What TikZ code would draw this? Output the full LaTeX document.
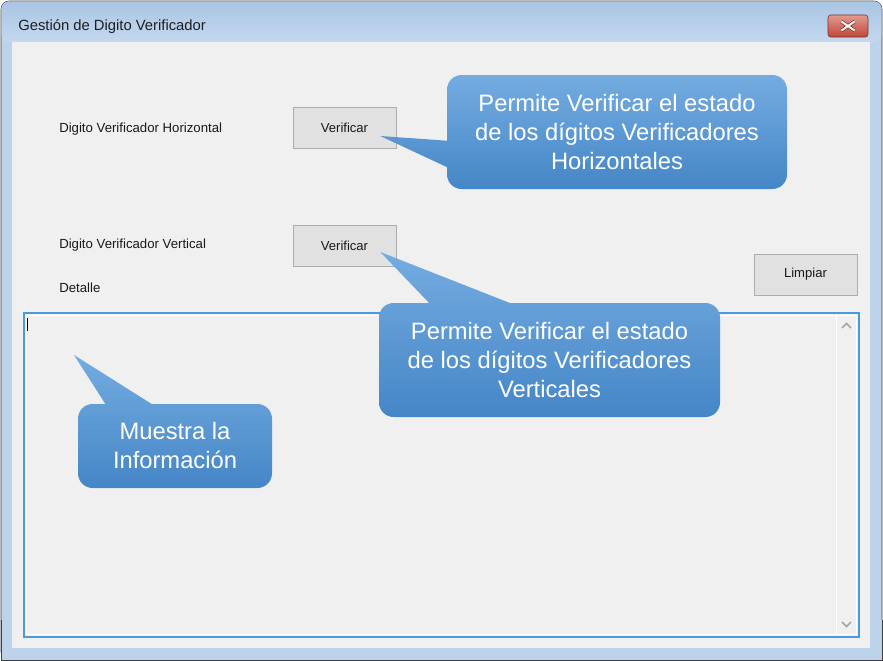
\documentclass[tikz,border=0pt]{standalone}
\usepackage{fontspec}
\setmainfont{Liberation Sans}[Ligatures=NoCommon]
\usetikzlibrary{calc}

\definecolor{marco}{HTML}{BCD3EB}
\definecolor{barra1}{HTML}{A9C5E4}
\definecolor{barra2}{HTML}{C4D8EE}
\definecolor{borde}{HTML}{3E3E3E}
\definecolor{fondo}{HTML}{F0F0F0}
\definecolor{botonfondo}{HTML}{E1E1E1}
\definecolor{botonborde}{HTML}{ADADAD}
\definecolor{cajaborde}{HTML}{4A9AE2}
\definecolor{globoarriba}{HTML}{74ACE0}
\definecolor{globoabajo}{HTML}{4586C7}
\definecolor{cerrar1}{HTML}{E29A8E}
\definecolor{cerrar2}{HTML}{C2453A}
\definecolor{cerrarborde}{HTML}{7B3028}

\tikzset{
  boton/.style={draw=botonborde, fill=botonfondo, minimum width=77.25pt, minimum height=30.75pt,
    inner sep=0pt, text=black!90, font=\fontsize{9.8}{12}\selectfont},
  etiqueta/.style={anchor=west, inner sep=0pt, text=black!90, font=\fontsize{9.9}{12}\selectfont},
  globo/.style={top color=globoarriba, bottom color=globoabajo},
  globotexto/.style={text=white, align=center, inner sep=0pt, font=\fontsize{17.8}{21.75}\selectfont},
  flecha/.style={draw=black!35, line width=1.1pt},
}

\begin{document}
\begin{tikzpicture}[x=0.75pt,y=-0.75pt]
  \useasboundingbox (0,0) rectangle (883,661);

  % ventana
  \draw[borde, fill=marco, rounded corners=6pt] (1,1) rectangle (882,660);
  \fill[marco] (1.5,620) rectangle (881.5,659.5);
  \draw[borde] (1,620) -- (1,660) -- (882,660) -- (882,620);
  \shade[top color=barra1, bottom color=barra2, rounded corners=5pt] (1.6,1.6) rectangle (881.4,42);
  \fill[fondo] (12,42) rectangle (870,648);
  \node[anchor=west, inner sep=0pt, text=black!88, font=\fontsize{11.1}{13}\selectfont] (titulo) at (18,27) {Gestión de Digito Verificador};

  % boton cerrar
  \shade[draw=cerrarborde, top color=cerrar1, bottom color=cerrar2, rounded corners=2pt] (828,15) rectangle (868,37);
  \draw[cerrarborde, line width=2.6pt] (841.5,21.5) -- (854.5,30.5) (841.5,30.5) -- (854.5,21.5);
  \draw[white, line width=1.5pt] (841.5,21.5) -- (854.5,30.5) (841.5,30.5) -- (854.5,21.5);

  % etiquetas
  \node[etiqueta] (horizontal) at (59,129) {Digito Verificador Horizontal};
  \node[etiqueta] (vertical) at (59,245) {Digito Verificador Vertical};
  \node[etiqueta] (detalle) at (59,288) {Detalle};

  % botones
  \node[boton] (btn1) at (344.5,128) {Verificar};
  \node[boton] (btn2) at (344.5,245.5) {Verificar};
  \node[boton] (limpiar) at (805.5,274.5) {Limpiar};

  % caja de texto
  \draw[cajaborde, line width=1.1pt, fill=fondo] (24,313) rectangle (859,637);
  \draw[white] (26.5,315.5) rectangle (856.5,634.5);
  \draw[white] (836,315.5) -- (836,634.5);
  \draw[black, line width=0.75pt] (27.5,318) -- (27.5,331);
  \draw[flecha] (842,328) -- (846.5,323.5) -- (851,328);
  \draw[flecha] (842,622) -- (846.5,626.5) -- (851,622);

  % globos
  \shade[globo, rounded corners=11pt] (447,75) rectangle (787,189)
    [sharp corners] (451,141) -- ($(btn1.east)+(-16,8)$) -- (451,169) -- cycle;
  \node[globotexto] (nota1) at (617,132) {Permite Verificar el estado\\de los dígitos Verificadores\\Horizontales};

  \shade[globo, rounded corners=11pt] (379,303) rectangle (720,417)
    [sharp corners] (520,307) -- ($(btn2.east)+(-16,6.5)$) -- (433,307) -- cycle;
  \node[globotexto] (nota2) at (549.5,360) {Permite Verificar el estado\\de los dígitos Verificadores\\Verticales};

  \coordinate (punta3) at (74,355);
  \shade[globo, rounded corners=11pt] (78,404) rectangle (272,488)
    [sharp corners] (158,408) -- (punta3) -- (108,408) -- cycle;
  \node[globotexto] (nota3) at (175,446) {Muestra la\\Información};

\end{tikzpicture}
\end{document}
